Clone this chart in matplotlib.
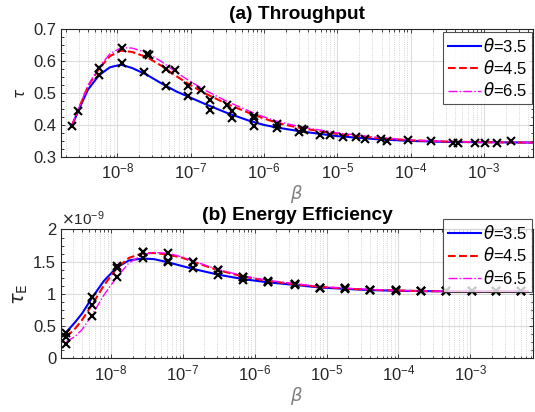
import numpy as np
import matplotlib.pyplot as plt
from matplotlib.ticker import FixedLocator, LogLocator, MultipleLocator, ScalarFormatter, NullFormatter

plt.rcParams['font.family'] = ['Liberation Sans', 'DejaVu Sans']
plt.rcParams['mathtext.fontset'] = 'dejavusans'

thetas = ['3.5', '4.5', '6.5']
colors = ['#0000FF', '#FF0000', '#FF00FF']
styles = ['-', '--', '-.']
widths = [1.5, 1.5, 1.0]
decades = [1e-8, 1e-7, 1e-6, 1e-5, 1e-4, 1e-3]

# (a) throughput, analytical curves (log10 beta -> tau)
tp_exp = [-8.62, -8.5, -8.4, -8.25, -8.1, -7.95, -7.8, -7.6, -7.4, -7.2, -7.0, -6.8,
          -6.5, -6.2, -6.0, -5.8, -5.5, -5.0, -4.5, -4.0, -3.5, -3.0, -2.34]
tp_35 = [0.397, 0.46, 0.51, 0.555, 0.58, 0.588, 0.578, 0.557, 0.53, 0.505, 0.485, 0.465,
         0.437, 0.413, 0.400, 0.391, 0.380, 0.365, 0.356, 0.350, 0.347, 0.346, 0.345]
tp_45 = [0.397, 0.465, 0.52, 0.575, 0.615, 0.632, 0.628, 0.612, 0.585, 0.553, 0.524, 0.498,
         0.465, 0.437, 0.420, 0.405, 0.390, 0.372, 0.360, 0.352, 0.348, 0.346, 0.345]
tp_65 = [0.397, 0.467, 0.523, 0.58, 0.622, 0.641, 0.640, 0.626, 0.598, 0.565, 0.535, 0.508,
         0.473, 0.443, 0.425, 0.410, 0.394, 0.375, 0.362, 0.353, 0.348, 0.346, 0.345]

# (a) simulation points
tp_sim_exp = [-8.62, -8.53, -8.25, -8.25, -7.93, -7.93, -7.64, -7.60, -7.57, -7.33, -7.33,
              -7.21, -7.03, -7.03, -6.86, -6.73, -6.73, -6.5, -6.43, -6.43, -6.14, -6.14,
              -6.14, -5.82, -5.82, -5.53, -5.48, -5.45, -5.24, -5.10, -4.93, -4.75, -4.63,
              -4.40, -4.32, -4.04, -3.72, -3.42, -3.35, -3.13, -2.99, -2.83, -2.63]
tp_sim = [0.396, 0.442, 0.578, 0.557, 0.640, 0.593, 0.564, 0.620, 0.617, 0.575, 0.522,
          0.571, 0.522, 0.489, 0.51, 0.477, 0.448, 0.462, 0.442, 0.421, 0.429, 0.421,
          0.397, 0.389, 0.403, 0.377, 0.387, 0.384, 0.368, 0.368, 0.361, 0.363, 0.355,
          0.355, 0.35, 0.352, 0.35, 0.345, 0.345, 0.345, 0.345, 0.344, 0.35]

# (b) energy efficiency, analytical curves (units of 1e-9)
ee_exp = [-8.62, -8.5, -8.4, -8.27, -8.1, -7.92, -7.75, -7.56, -7.4, -7.2, -7.0, -6.86,
          -6.51, -6.16, -5.81, -5.44, -5.09, -4.75, -4.4, -4.04, -3.69, -3.34, -2.98, -2.2]
ee_35 = [0.41, 0.56, 0.70, 0.93, 1.20, 1.41, 1.52, 1.55, 1.54, 1.49, 1.43, 1.39,
         1.30, 1.23, 1.18, 1.14, 1.10, 1.08, 1.06, 1.05, 1.045, 1.04, 1.04, 1.04]
ee_45 = [0.335, 0.46, 0.60, 0.82, 1.13, 1.40, 1.56, 1.63, 1.635, 1.61, 1.56, 1.50,
         1.37, 1.27, 1.20, 1.15, 1.11, 1.085, 1.065, 1.055, 1.045, 1.04, 1.04, 1.04]
ee_65 = [0.26, 0.34, 0.45, 0.66, 0.98, 1.26, 1.48, 1.61, 1.645, 1.63, 1.57, 1.51,
         1.38, 1.28, 1.21, 1.16, 1.115, 1.09, 1.07, 1.055, 1.047, 1.04, 1.04, 1.04]

# (b) simulation points
ee_sim_exp = [-8.62, -8.27, -7.92, -7.56, -7.20, -6.86, -6.51, -6.16, -5.81, -5.44,
              -5.09, -4.75, -4.40, -4.04, -3.69, -3.34, -2.98, -2.64, -2.29]
ee_sim_35 = [0.39, 0.946, 1.436, 1.55, 1.49, 1.395, 1.29, 1.214, 1.18, 1.14,
             1.10, 1.08, 1.06, 1.05, 1.045, 1.04, 1.04, 1.04, 1.04]
ee_sim_45 = [0.33, 0.826, 1.41, 1.653, 1.513, 1.5, 1.37, 1.256, 1.19, 1.15,
             1.10, 1.085, 1.06, 1.06, 1.05, 1.04, 1.04, 1.04, 1.04]
ee_sim_65 = [0.22, 0.66, 1.256, 1.653, 1.637, 1.5, 1.37, 1.256, 1.2, 1.15,
             1.10, 1.085, 1.06, 1.06, 1.05, 1.04, 1.04, 1.04, 1.04]


class GFormatter(ScalarFormatter):
    def _set_format(self):
        self.format = '%g'


fig = plt.figure(figsize=(5.35, 4.12), dpi=100)
ax1 = fig.add_axes([0.114, 0.619, 0.882, 0.311])
ax2 = fig.add_axes([0.114, 0.130, 0.882, 0.313])

tc = '#262626'


def style(ax):
    ax.set_xscale('log')
    ax.xaxis.set_major_locator(FixedLocator(decades))
    ax.xaxis.set_minor_locator(LogLocator(base=10, subs=np.arange(2, 10), numticks=20))
    ax.xaxis.set_minor_formatter(NullFormatter())
    ax.tick_params(which='both', direction='in', top=True, right=True, colors=tc,
                   labelsize=12, width=0.6)
    ax.tick_params(which='major', length=3)
    ax.tick_params(which='minor', length=1.8)
    ax.grid(which='major', color='#dcdcdc', lw=0.8)
    ax.grid(which='minor', axis='x', color='#c8c8c8', lw=0.6, ls=':')
    ax.set_axisbelow(True)
    for s in ax.spines.values():
        s.set_color(tc)
        s.set_linewidth(0.8)
    ax.set_xlabel(r'$\beta$', fontsize=13, color='#808080', labelpad=1)


def legend(ax, top):
    leg = ax.legend(loc='upper right', bbox_to_anchor=(0.994, top),
                    bbox_transform=fig.transFigure, fontsize=12, frameon=True,
                    fancybox=False, edgecolor='#262626', handlelength=2.0,
                    handletextpad=0.1, borderpad=0.3, labelspacing=0.25, borderaxespad=0)
    leg.get_frame().set_linewidth(0.8)


curves_a = [tp_35, tp_45, tp_65]
for i in range(3):
    ax1.plot(10.0 ** np.array(tp_exp), curves_a[i], color=colors[i], ls=styles[i],
             lw=widths[i], label=r'$\theta$=' + thetas[i])
ax1.plot(10.0 ** np.array(tp_sim_exp), tp_sim, 'x', color='k', ms=6, mew=1.5)
style(ax1)
ax1.set_xlim(10 ** -8.767, 10 ** -2.336)
ax1.set_ylim(0.3, 0.7)
ax1.yaxis.set_major_locator(MultipleLocator(0.1))
ax1.yaxis.set_minor_locator(MultipleLocator(0.025))
ax1.set_ylabel(r'$\tau$', fontsize=11, color=tc, labelpad=4)
ax1.set_title('(a) Throughput', fontsize=13.8, fontweight='bold', pad=7)
legend(ax1, 0.922)

curves_b = [ee_35, ee_45, ee_65]
sims_b = [ee_sim_35, ee_sim_45, ee_sim_65]
for i in range(3):
    ax2.plot(10.0 ** np.array(ee_exp), np.array(curves_b[i]) * 1e-9, color=colors[i],
             ls=styles[i], lw=widths[i], label=r'$\theta$=' + thetas[i])
for i in range(3):
    ax2.plot(10.0 ** np.array(ee_sim_exp), np.array(sims_b[i]) * 1e-9, 'x', color='k',
             ms=6, mew=1.5)
style(ax2)
ax2.set_xlim(10 ** -8.695, 10 ** -2.13)
ax2.set_ylim(0, 2e-9)
ax2.yaxis.set_major_locator(MultipleLocator(0.5e-9))
ax2.yaxis.set_minor_locator(MultipleLocator(0.125e-9))
ax2.yaxis.set_major_formatter(GFormatter(useMathText=True))
ax2.yaxis.get_offset_text().set_fontsize(11)
ax2.yaxis.get_offset_text().set_color(tc)
ax2.set_ylabel(r'$\tau_{\mathrm{E}}$', fontsize=14, color=tc, labelpad=2)
ax2.set_title('(b) Energy Efficiency', fontsize=13.8, fontweight='bold', pad=7)
legend(ax2, 0.468)

fig.savefig('out.png', dpi=100)
